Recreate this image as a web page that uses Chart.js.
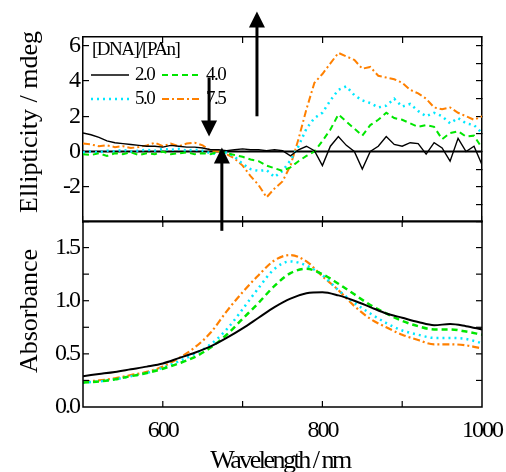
<!DOCTYPE html>
<html>
<head>
<meta charset="utf-8">
<script src="https://cdn.jsdelivr.net/npm/chart.js@4"></script>
<style>
  body{margin:0;background:#fff;}
  #wrap{position:relative;width:506px;height:472px;}
  #wrap canvas{position:absolute;left:0;top:0;}
</style>
</head>
<body>
<div id="wrap">
  <canvas id="cd" width="506" height="472"></canvas>
  <canvas id="abs" width="506" height="472"></canvas>
</div>
<script>
// data

const seriesNames = ['2.0', '4.0', '5.0', '7.5'];
const legendTitle = '[DNA]/[PAn]';

const cdWavelength = [500,510,520,530,540,550,560,570,580,590,600,610,620,630,640,650,660,670,680,690,700,
  710,720,730,740,750,760,770,780,790,800,810,820,830,840,850,860,870,880,890,900,
  910,920,930,940,950,960,970,980,990,1000];

const cd20 = [1.05,0.95,0.8,0.6,0.5,0.45,0.4,0.35,0.3,0.3,0.25,0.35,0.3,0.25,0.25,0.2,0.1,0.1,0.05,0.1,0.15,
  0.1,0.1,0.05,0.1,0.05,-0.25,0.1,0.3,0.05,-0.8,0.3,0.85,0.35,0.0,-1.0,0.0,0.3,0.85,0.4,0.3,
  0.5,0.45,-0.15,0.5,0.2,-0.55,0.75,0.0,0.3,-0.75];
const cd40 = [-0.15,-0.2,-0.1,-0.25,-0.1,-0.15,-0.05,-0.2,-0.1,-0.15,0.0,-0.15,-0.1,-0.05,-0.15,-0.1,-0.15,0.0,-0.1,-0.2,-0.3,
  -0.45,-0.55,-0.8,-0.95,-1.1,-0.9,-0.55,-0.25,0.0,0.6,1.25,2.1,1.7,1.3,0.9,1.5,1.8,2.2,1.9,1.8,
  1.6,1.4,1.5,1.4,0.7,1.05,1.15,0.85,0.9,0.2];
const cd50 = [-0.05,0.0,-0.05,0.05,0.0,0.1,0.0,0.05,0.1,0.05,0.15,0.1,0.15,0.05,0.1,0.05,-0.1,-0.15,-0.05,-0.3,-0.7,
  -1.0,-1.1,-1.05,-1.45,-1.1,-0.5,0.3,1.3,1.9,2.2,2.9,3.5,3.7,3.2,2.9,2.75,2.5,2.6,3.0,2.55,
  2.7,2.3,2.0,2.2,2.0,1.6,1.9,1.6,1.5,1.05];
const cd75 = [0.45,0.4,0.3,0.35,0.25,0.3,0.2,0.25,0.35,0.5,0.3,0.45,0.3,0.45,0.5,0.35,0.05,0.0,-0.15,-0.4,-0.8,
  -1.4,-1.9,-2.6,-2.1,-1.7,-0.8,0.7,2.4,3.9,4.4,5.0,5.6,5.4,5.2,4.7,4.8,4.3,4.2,4.1,3.9,
  3.5,3.3,3.0,2.5,2.4,2.5,2.2,2.0,1.8,2.0];

const absWavelength = [500,520,540,560,580,600,620,640,660,680,700,720,740,760,780,800,
  820,840,860,880,900,920,940,960,980,1000];
const abs20 = [0.29,0.31,0.33,0.355,0.38,0.41,0.46,0.51,0.57,0.65,0.74,0.84,0.94,1.02,1.07,1.08,
  1.05,1.0,0.94,0.88,0.84,0.8,0.77,0.78,0.76,0.73];
const abs40 = [0.23,0.24,0.26,0.29,0.32,0.36,0.41,0.47,0.56,0.68,0.83,0.98,1.14,1.26,1.3,1.25,
  1.16,1.06,0.96,0.88,0.81,0.76,0.73,0.73,0.71,0.68];
const abs50 = [0.23,0.24,0.26,0.29,0.32,0.37,0.43,0.5,0.59,0.73,0.92,1.12,1.3,1.37,1.33,1.24,
  1.1,0.98,0.88,0.79,0.72,0.68,0.65,0.65,0.64,0.6];
const abs75 = [0.24,0.25,0.27,0.3,0.33,0.38,0.46,0.56,0.7,0.9,1.08,1.24,1.38,1.43,1.37,1.23,
  1.1,0.95,0.83,0.75,0.68,0.63,0.59,0.59,0.58,0.55];

const xLabels = [600, 800, 1000];
const xTicks = [600, 700, 800, 900];
const cdLabels = [-2, 0, 2, 4, 6];
const absLabels = [0, 0.5, 1.0, 1.5];
const absTicks = [0.25, 0.5, 0.75, 1.0, 1.25, 1.5];

// arrows: wavelength, from, to (ellipticity units)
const arrows = [
  {x: 718, from: 2.0, to: 7.95},
  {x: 658, from: 4.2, to: 0.85},
  {x: 674, from: -4.5, to: 0.23}
];

// styles
const colors = ['#000000', '#00e600', '#00e8ff', '#ff8000'];
const dashes = [[], [6, 4], [2, 4], [7, 3, 2, 3]];
const FONT = "'Liberation Serif', 'Times New Roman', serif";

function pairs(xs, ys){
  return xs.map((x, i) => ({x: x, y: ys[i]}));
}

function makeSets(xs, list, widths, smooth){
  return list.map((ys, i) => ({
    label: seriesNames[i],
    data: pairs(xs, ys),
    borderColor: colors[i],
    borderDash: dashes[i],
    borderWidth: widths[i],
    pointRadius: 0,
    fill: false,
    tension: smooth ? 0.4 : 0,
    cubicInterpolationMode: smooth ? 'monotone' : 'default'
  }));
}

function line(ctx, x1, y1, x2, y2){
  ctx.beginPath();
  ctx.moveTo(x1, y1);
  ctx.lineTo(x2, y2);
  ctx.stroke();
}

// box with inward ticks on all four sides (bottom panel)
function drawFrame(ctx, src, yTicks){
  const x = src.scales.x, y = src.scales.y;
  const left = x.getPixelForValue(x.min), right = x.getPixelForValue(x.max);
  const top = y.getPixelForValue(y.max), bottom = y.getPixelForValue(y.min);
  ctx.save();
  ctx.setLineDash([]);
  ctx.strokeStyle = '#000';
  ctx.lineWidth = 1.5;
  ctx.strokeRect(left, top, right - left, bottom - top);
  ctx.lineWidth = 1.2;
  xTicks.forEach(v => {
    const px = x.getPixelForValue(v);
    line(ctx, px, top, px, top + 6);
    line(ctx, px, bottom, px, bottom - 6);
  });
  yTicks.forEach(v => {
    const py = y.getPixelForValue(v);
    line(ctx, left, py, left + 6, py);
    line(ctx, right, py, right - 6, py);
  });
  ctx.restore();
}

// frame, zero line, titles, legend and arrows
const decor = {
  id: 'decor',
  beforeDraw(chart){
    chart.ctx.letterSpacing = '-2px';
  },
  beforeDatasetsDraw(chart, args, opts){
    if(!opts.zero) return;
    const {ctx, scales: {x, y}} = chart;
    ctx.save();
    ctx.strokeStyle = '#000';
    ctx.lineWidth = 2.2;
    const py = y.getPixelForValue(0);
    line(ctx, x.getPixelForValue(x.min), py, x.getPixelForValue(x.max), py);
    ctx.restore();
  },
  afterDraw(chart, args, opts){
    const ctx = chart.ctx;
    if(opts.frame) drawFrame(ctx, chart, opts.yTicks);

    ctx.save();
    ctx.fillStyle = '#000';
    ctx.textBaseline = 'middle';
    (opts.titles || []).forEach(t => {
      ctx.save();
      ctx.font = '26px ' + FONT;
      ctx.letterSpacing = t.sp;
      ctx.textAlign = 'center';
      ctx.translate(t.x, t.y);
      ctx.rotate(t.rot);
      ctx.fillText(t.text, 0, 0);
      ctx.restore();
    });

    if(opts.legend){
      ctx.font = '19px ' + FONT;
      ctx.letterSpacing = '-1.5px';
      ctx.textAlign = 'left';
      ctx.fillText(legendTitle, 92, 50);
      const cols = [91, 162], rows = [75, 99];
      chart.data.datasets.forEach((ds, i) => {
        const lx = cols[i % 2], ly = rows[Math.floor(i / 2)];
        ctx.save();
        ctx.strokeStyle = ds.borderColor;
        ctx.lineWidth = ds.borderWidth;
        ctx.setLineDash(ds.borderDash);
        line(ctx, lx, ly, lx + 38, ly);
        ctx.restore();
        ctx.fillText(ds.label, lx + 44, ly);
      });
    }

    if(opts.arrows){
      const {scales: {x, y}} = chart;
      arrows.forEach(ar => {
        const px = x.getPixelForValue(ar.x);
        const p1 = y.getPixelForValue(ar.from);
        const p2 = y.getPixelForValue(ar.to);
        const dir = p2 < p1 ? 1 : -1;
        ctx.strokeStyle = '#000';
        ctx.lineWidth = 3;
        line(ctx, px, p1, px, p2 + dir * 12);
        ctx.beginPath();
        ctx.moveTo(px, p2);
        ctx.lineTo(px - 8, p2 + dir * 16);
        ctx.lineTo(px + 8, p2 + dir * 16);
        ctx.closePath();
        ctx.fill();
      });
    }
    ctx.restore();
  }
};

function fixWidth(w){ return s => { s.width = w; s.paddingTop = 0; s.paddingBottom = 0; }; }
function fixHeight(h){ return s => { s.height = h; s.paddingLeft = 0; s.paddingRight = 0; }; }

const tickFont = {family: FONT, size: 24};

// top panel box: drawn by the axes themselves, ticks pointing inward
const inGrid = {display: true, drawOnChartArea: false, drawTicks: true, tickLength: -6, color: '#000', lineWidth: 1.2};
const edge = {display: true, color: '#000', width: 1.5};
const plainX = pos => ({
  type: 'linear', axis: 'x', position: pos, min: 500, max: 1000,
  afterFit: fixHeight(0),
  grid: inGrid, border: edge,
  ticks: {display: false, stepSize: 100, autoSkip: false}
});

// top panel: CD
new Chart(document.getElementById('cd'), {
  type: 'line',
  data: {datasets: makeSets(cdWavelength, [cd20, cd40, cd50, cd75], [1.4, 2, 2.5, 2], false)},
  options: {
    responsive: false,
    animation: false,
    layout: {padding: {top: 37, right: 24, bottom: 250, left: 0}},
    plugins: {
      legend: {display: false},
      tooltip: {enabled: false},
      decor: {
        zero: true,
        frame: false,
        legend: true,
        arrows: true,
        titles: [{text: 'Ellipticity / mdeg', x: 30, y: 122, rot: -Math.PI / 2, sp: '0px'}]
      }
    },
    scales: {
      x: plainX('bottom'),
      xTop: plainX('top'),
      y: {
        position: 'left',
        min: -4, max: 6.5,
        afterFit: fixWidth(83),
        grid: inGrid,
        border: edge,
        ticks: {
          stepSize: 1, includeBounds: false, padding: 10, color: '#000', font: tickFont,
          callback: v => cdLabels.includes(v) ? String(v) : ''
        }
      },
      yRight: {
        type: 'linear', axis: 'y', position: 'right',
        min: -4, max: 6.5,
        afterFit: fixWidth(0),
        grid: inGrid,
        border: edge,
        ticks: {display: false, stepSize: 1, includeBounds: false}
      }
    }
  },
  plugins: [decor]
});

// bottom panel: absorbance
new Chart(document.getElementById('abs'), {
  type: 'line',
  data: {datasets: makeSets(absWavelength, [abs20, abs40, abs50, abs75], [2, 2.5, 2.5, 2.2], true)},
  options: {
    responsive: false,
    animation: false,
    layout: {padding: {top: 221, right: 24, bottom: 0, left: 0}},
    plugins: {
      legend: {display: false},
      tooltip: {enabled: false},
      decor: {
        zero: false,
        frame: true,
        yTicks: absTicks,
        titles: [
          {text: 'Absorbance', x: 30, y: 311, rot: -Math.PI / 2, sp: '0px'},
          {text: 'Wavelength / nm', x: 280, y: 461, rot: 0, sp: '-2.5px'}
        ]
      }
    },
    scales: {
      x: {
        type: 'linear', min: 500, max: 1000,
        afterFit: fixHeight(65),
        grid: {display: false, drawTicks: false},
        border: {display: false},
        ticks: {
          stepSize: 100, autoSkip: false, maxRotation: 0, padding: 9, color: '#000', font: tickFont,
          callback: v => xLabels.includes(v) ? String(v) : ''
        }
      },
      y: {
        min: 0, max: 1.75,
        afterFit: fixWidth(83),
        grid: {display: false, drawTicks: false},
        border: {display: false},
        ticks: {
          stepSize: 0.25, padding: 4, color: '#000', font: tickFont,
          callback: v => absLabels.includes(v) ? v.toFixed(1) : ''
        }
      }
    }
  },
  plugins: [decor]
});
</script>
</body>
</html>
